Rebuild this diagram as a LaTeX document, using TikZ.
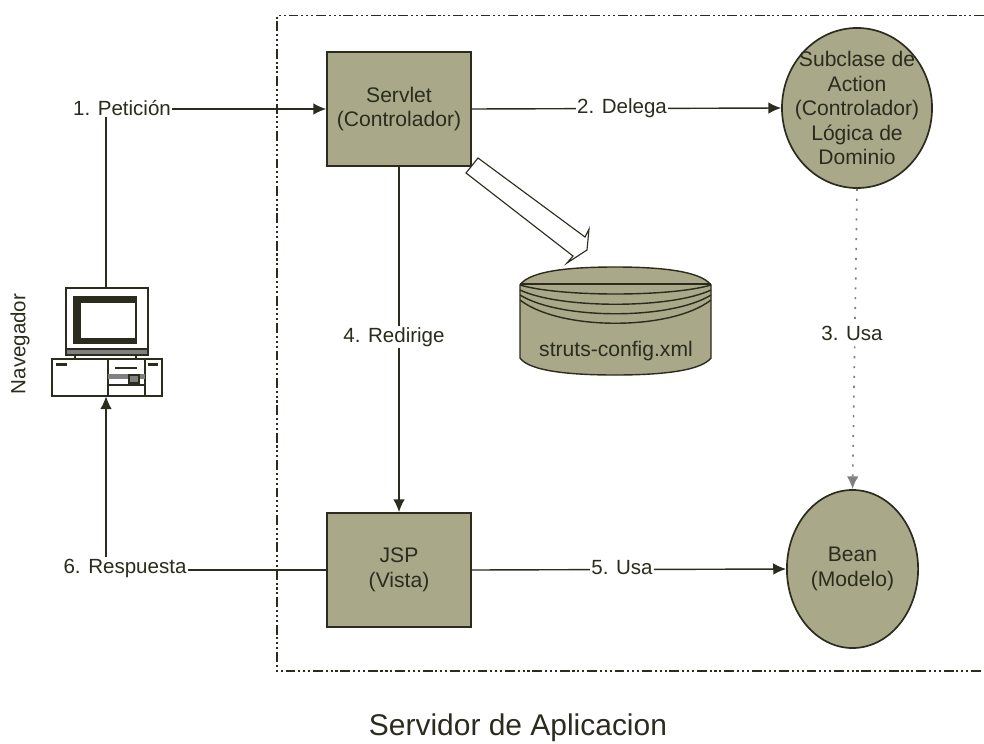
\documentclass[tikz,border=0pt]{standalone}
\usepackage{fontspec}
\setmainfont{Liberation Sans}
\usepackage{xcolor}
\usetikzlibrary{arrows.meta,shapes.geometric}
\definecolor{myolive}{HTML}{A9A98A}
\definecolor{myink}{HTML}{2B2B1E}
\tikzset{%
  arrow/.style={line width=1pt,myink,-{Latex[length=3.2mm,width=2.9mm]}},
  plain/.style={line width=1pt,myink},
  edge/.style={fill=white,inner sep=1pt,text=myink,font=\fontsize{14.6}{17}\selectfont},
  entity/.style={draw=myink,line width=1.2pt,fill=myolive,text=myink,align=center,font=\fontsize{15}{17.4}\selectfont},
  process/.style={entity,rectangle,minimum width=3.6cm,minimum height=2.85cm},
  actor/.style={entity,ellipse,inner sep=-0.5cm},
  boundary/.style={line width=1.2pt,myink,dash pattern=on 7pt off 2pt on 1.5pt off 2pt on 1.5pt off 2pt on 1.5pt off 2pt},
}
\begin{document}
\begin{tikzpicture}[x=0.025cm,y=-0.025cm]
      \useasboundingbox (0,0) rectangle (984,743);

      \draw[boundary] (984,15.5) -- (277,15.5) -- (277,671) -- (984,671);

      \node[process] (node_servlet) at (399,109) {Servlet\\(Controlador)};
      \node[process] (node_jsp) at (399,570) {JSP\\(Vista)};

      \node[actor,minimum width=3.75cm,minimum height=4cm] (node_action) at (857,108) {Subclase de\\Action\\(Controlador)\\Lógica de\\Dominio};
      \node[actor,minimum width=3.28cm,minimum height=3.95cm] (node_bean) at (852.5,569) {Bean\\(Modelo)};

      % config file
      \filldraw[draw=myink,line width=1pt,fill=myolive] (520,285) .. controls (530,270) and (575,267) .. (615,267)
        .. controls (655,267) and (700,270) .. (711,285) -- (711,358)
        .. controls (700,372) and (655,375) .. (615,375)
        .. controls (575,375) and (530,372) .. (520,358) -- cycle;
      \foreach \s/\c in {284/284,285/297,290/309,295/320,300/331}
        \draw[plain] (520,\s) .. controls (560,\c) and (671,\c) .. (711,\s);
      \node[text=myink,font=\fontsize{15}{17}\selectfont] (node_config) at (616,351) {struts-config.xml};

      \draw[line width=0.8pt,draw=myink,fill=white] (478,158) -- (585,237) -- (589,229) -- (587,250)
        -- (567,263) -- (573,256) -- (466,173) -- cycle;

      % computer
      \node[minimum width=2.75cm,minimum height=2.7cm,inner sep=0pt] (node_pc) at (106,342) {};
      \draw[plain,fill=white] (66,288) rectangle (148,355);
      \fill[myink] (73,296) rectangle (137,344);
      \fill[white] (81,303) rectangle (135,338);
      \filldraw[plain,fill=gray] (66,349) rectangle (148,355);
      \draw[plain] (75,355) -- (75,359);
      \draw[plain] (136,355) -- (136,359);
      \draw[plain,fill=white] (52,359) rectangle (162,396);
      \draw[plain] (108,359) -- (108,396);
      \draw[plain] (145,359) -- (145,396);
      \fill[myink] (56,363) rectangle (67,366);
      \fill[myink] (148,363) rectangle (158,366);
      \draw[plain] (115,368) -- (137,368);
      \fill[gray] (108,374) rectangle (145,379);
      \draw[plain] (108,385) -- (145,385);
      \draw[plain,fill=gray] (129,375) rectangle (139,383);

      \draw[arrow] (node_pc.north) |- (node_servlet.west);
      \draw[arrow] (node_servlet.east) -- (node_action.west);
      \draw[arrow] (node_servlet.south) -- (node_jsp.north);
      \draw[arrow] (node_jsp.east) -- (node_bean.west);
      \draw[arrow] (node_jsp.west) -| (node_pc.south);
      \draw[arrow,line width=1.2pt,gray,dash pattern=on 1.5pt off 5.5pt] (node_action.south) -- (node_bean.north);

      \node[edge] (label_1) at (122,108) {1. Petición};
      \node[edge] (label_2) at (622,108) {2. Delega};
      \node[edge] (label_3) at (852,333) {3. Usa};
      \node[edge] (label_4) at (394,337) {4. Redirige};
      \node[edge] (label_5) at (622,568) {5. Usa};
      \node[edge] (label_6) at (125,568) {6. Respuesta};

      \node[edge,rotate=90] (label_nav) at (20,344) {Navegador};
      \node[text=myink,font=\fontsize{21.3}{25}\selectfont] (label_server) at (518,728) {Servidor de Aplicacion};
\end{tikzpicture}
\end{document}
